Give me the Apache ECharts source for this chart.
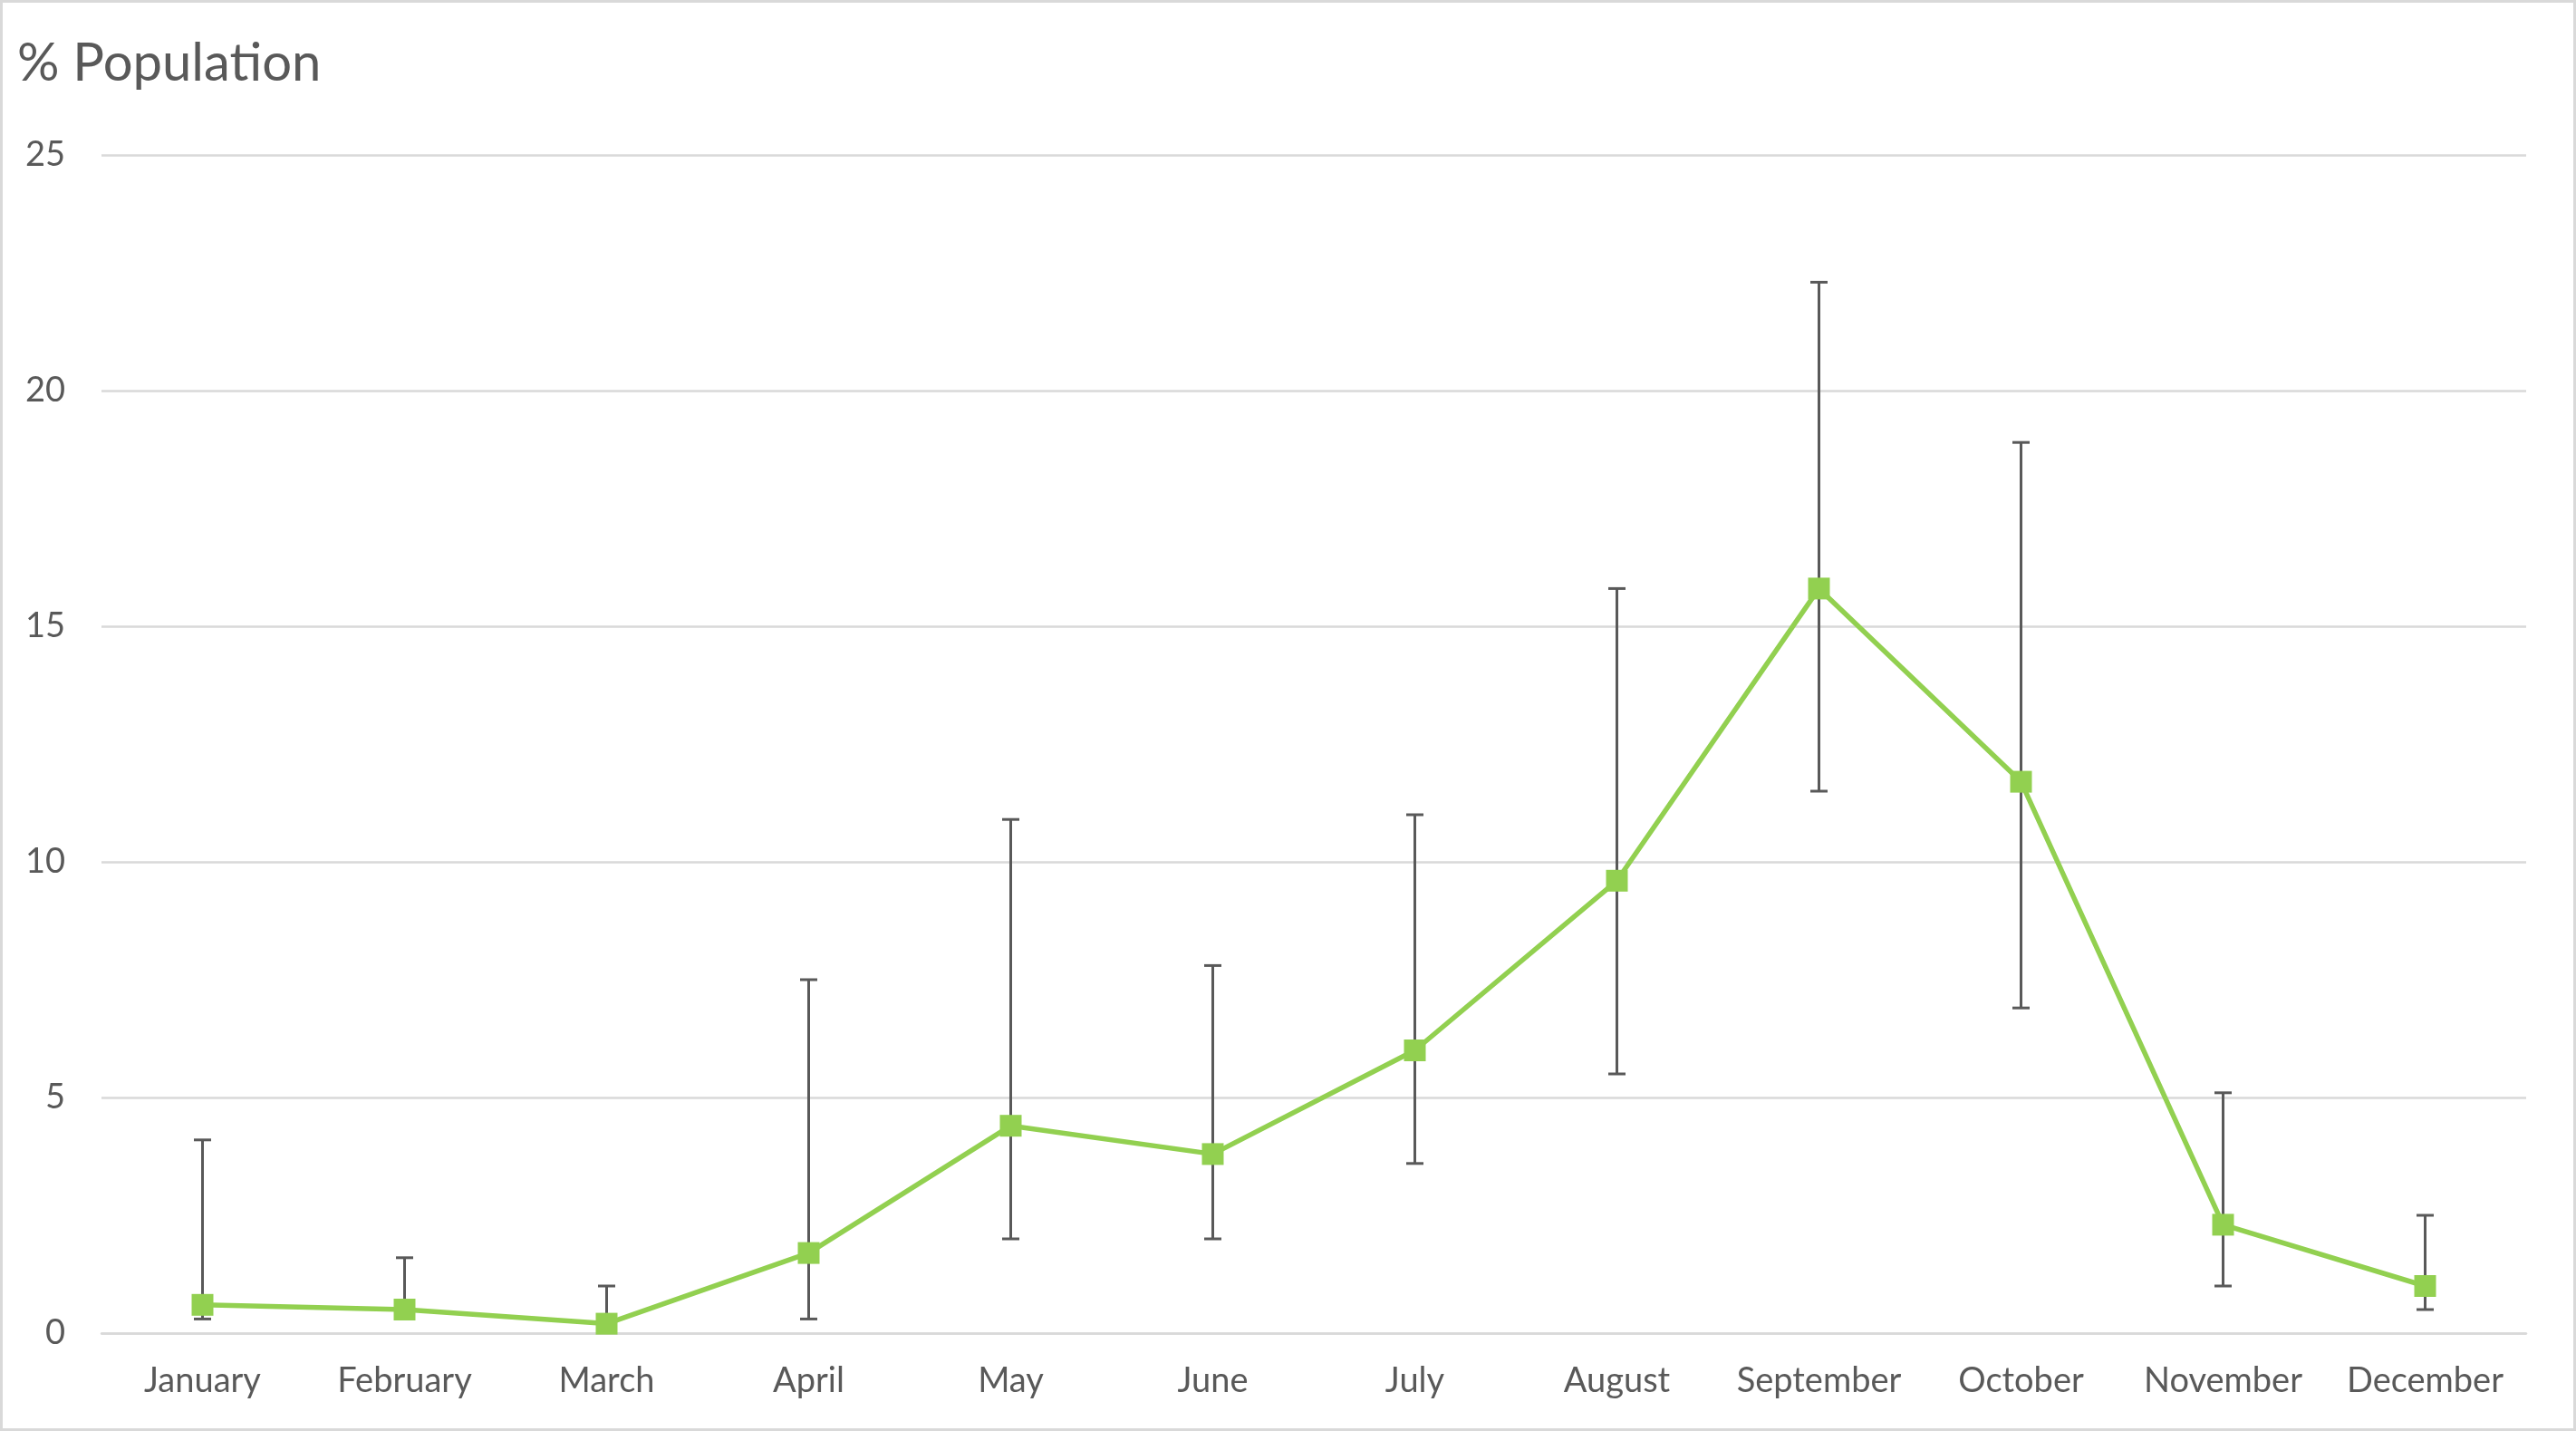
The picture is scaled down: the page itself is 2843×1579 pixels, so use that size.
<!DOCTYPE html>
<html>
<head>
<meta charset="utf-8">
<script src="https://cdn.jsdelivr.net/npm/echarts@6/dist/echarts.min.js"></script>
<style>
html,body{margin:0;padding:0;background:#fff;}
#chart{width:2843px;height:1579px;}
</style>
</head>
<body>
<div id="chart"></div>
<script>
const months = ['January','February','March','April','May','June','July','August','September','October','November','December'];
const values = [0.6, 0.5, 0.2, 1.7, 4.4, 3.8, 6.0, 9.6, 15.8, 11.7, 2.3, 1.0];
const upper  = [4.1, 1.6, 1.0, 7.5, 10.9, 7.8, 11.0, 15.8, 22.3, 18.9, 5.1, 2.5];
const lower  = [0.3, 0.4, 0.15, 0.3, 2.0, 2.0, 3.6, 5.5, 11.5, 6.9, 1.0, 0.5];
const yTicks = [0, 5, 10, 15, 20, 25];

const FONT = 'Lato';
const TXT = '#595959';

const errData = months.map((m, i) => [i, lower[i], upper[i]]);

const chart = echarts.init(document.getElementById('chart'), null, {renderer: 'canvas'});
chart.setOption({
  animation: false,
  backgroundColor: '#ffffff',
  title: {
    text: '% Population',
    left: 14, top: 36,
    textStyle: {fontFamily: FONT, fontSize: 58, fontWeight: 'normal', color: TXT}
  },
  graphic: [{
    type: 'rect', shape: {x: 1.5, y: 1.5, width: 2840, height: 1576},
    style: {fill: 'none', stroke: '#d9d9d9', lineWidth: 3}, silent: true, z: 100
  }],
  grid: {left: 112, right: 55, top: 171, bottom: 108, containLabel: false},
  xAxis: {
    type: 'category',
    data: months,
    boundaryGap: true,
    axisLine: {show: true, lineStyle: {color: '#d9d9d9', width: 2.5}},
    axisTick: {show: false},
    axisLabel: {fontFamily: FONT, fontSize: 38, color: TXT, margin: 34, interval: 0}
  },
  yAxis: {
    type: 'value',
    min: 0, max: 25, interval: 5,
    axisLine: {show: false},
    axisTick: {show: false},
    splitLine: {lineStyle: {color: '#d9d9d9', width: 2.5}},
    axisLabel: {fontFamily: FONT, fontSize: 38, color: TXT, margin: 40,
      formatter: v => yTicks.includes(v) ? String(v) : ''}
  },
  series: [
    {
      type: 'custom',
      z: 2,
      data: errData,
      renderItem: function (params, api) {
        const x = api.value(0);
        const lo = api.coord([x, api.value(1)]);
        const hi = api.coord([x, api.value(2)]);
        const cw = 9.5;
        const st = {stroke: '#595959', lineWidth: 3};
        return {
          type: 'group',
          children: [
            {type: 'line', shape: {x1: hi[0], y1: hi[1], x2: lo[0], y2: lo[1]}, style: st},
            {type: 'line', shape: {x1: hi[0] - cw, y1: hi[1], x2: hi[0] + cw, y2: hi[1]}, style: st},
            {type: 'line', shape: {x1: lo[0] - cw, y1: lo[1], x2: lo[0] + cw, y2: lo[1]}, style: st}
          ]
        };
      }
    },
    {
      type: 'line',
      z: 3,
      data: values,
      symbol: 'rect',
      symbolSize: 24,
      lineStyle: {color: '#92d050', width: 5.5},
      itemStyle: {color: '#92d050'}
    }
  ]
});
</script>
</body>
</html>
